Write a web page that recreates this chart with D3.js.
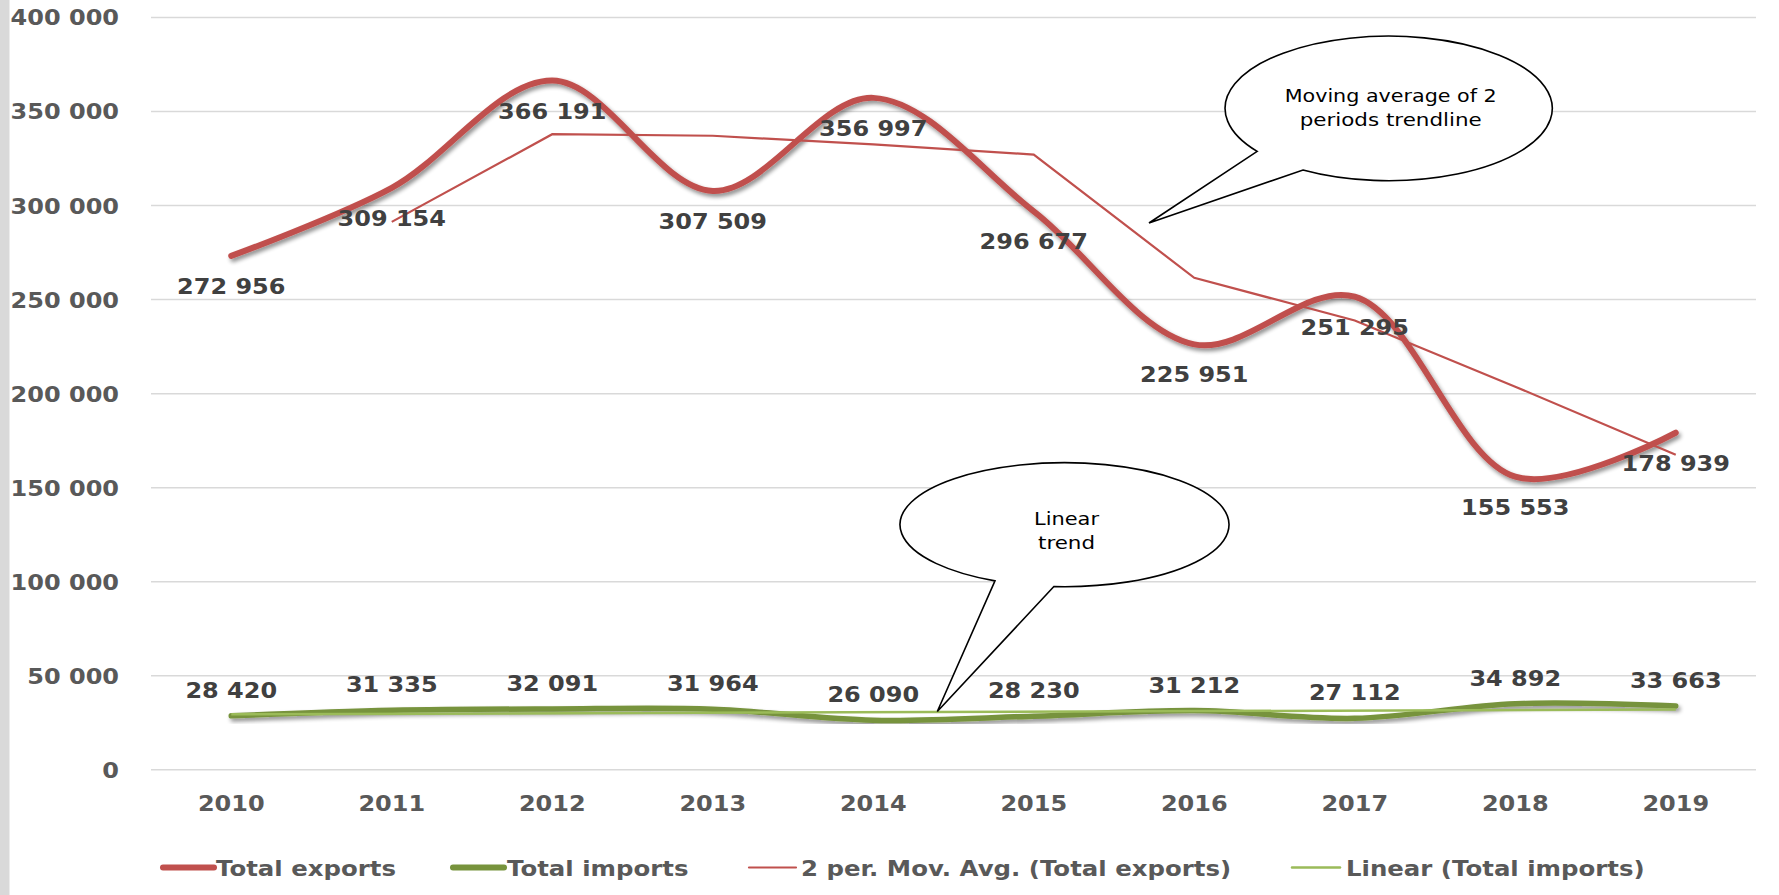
<!DOCTYPE html>
<html>
<head>
<meta charset="utf-8">
<script src="https://cdn.jsdelivr.net/npm/d3@7"></script>
<style>
  html, body { margin: 0; padding: 0; background: #ffffff; }
  svg { display: block; }
  text { font-family: "DejaVu Sans", sans-serif; }
</style>
</head>
<body>
<svg id="chart" width="1779" height="895"></svg>
<script>
// ---------- data ----------
const years = ["2010","2011","2012","2013","2014","2015","2016","2017","2018","2019"];
const totalExports = [272956, 309154, 366191, 307509, 356997, 296677, 225951, 251295, 155553, 178939];
const totalImports = [28420, 31335, 32091, 31964, 26090, 28230, 31212, 27112, 34892, 33663];
// 2-period moving average of exports, starting at 2011
const movAvgYears = ["2011","2012","2013","2014","2015","2016","2017","2018","2019"];
const movAvgExports = [291055, 337673, 336850, 332253, 326837, 261314, 238623, 203424, 167246];
// linear trend of imports (endpoints)
const linearYears = ["2010","2019"];
const linearImports = [29217, 31785];
const yTicks = [0, 50000, 100000, 150000, 200000, 250000, 300000, 350000, 400000];
const legendLabels = ["Total exports", "Total imports", "2 per. Mov. Avg. (Total exports)", "Linear (Total imports)"];
const callout1Lines = ["Moving average of 2", "periods trendline"];
const callout2Lines = ["Linear", "trend"];

// ---------- setup ----------
const W = 1779, H = 895;
const SX = 1.09;  // horizontal stretch of bold texts
const SXL = 1.11; // legend stretch
const plot = { left: 151, right: 1756, top: 17, bottom: 769.3 };
const svg = d3.select("#chart");

const defs = svg.append("defs");
const f = defs.append("filter").attr("id", "shadow")
  .attr("x", "-5%").attr("y", "-20%").attr("width", "110%").attr("height", "140%");
f.append("feGaussianBlur").attr("in", "SourceAlpha").attr("stdDeviation", 2).attr("result", "b");
f.append("feOffset").attr("in", "b").attr("dx", 2).attr("dy", 3).attr("result", "o");
f.append("feComponentTransfer").attr("in", "o").attr("result", "s")
  .append("feFuncA").attr("type", "linear").attr("slope", 0.45);
const fm = f.append("feMerge");
fm.append("feMergeNode").attr("in", "s");
fm.append("feMergeNode").attr("in", "SourceGraphic");

// left gray strip
svg.append("rect").attr("x", 0).attr("y", 0).attr("width", 9.5).attr("height", H).attr("fill", "#d9d9d9");

const x = d3.scaleBand().domain(years).range([plot.left, plot.right]).padding(0);
const xc = d => x(d) + x.bandwidth() / 2;
const y = d3.scaleLinear().domain([0, 400000]).range([plot.bottom, plot.top]);

const fmt = v => d3.format(",")(v).replace(/,/g, " ");

// ---------- gridlines + y axis ----------
const yAxis = d3.axisLeft(y).tickValues(yTicks).tickFormat(fmt)
  .tickSize(-(plot.right - plot.left)).tickPadding(32);
const gy = svg.append("g").attr("transform", `translate(${plot.left},0)`).call(yAxis);
gy.select(".domain").remove();
gy.selectAll(".tick line").attr("stroke", "#d9d9d9").attr("stroke-width", 1.5);
gy.selectAll(".tick text")
  .attr("fill", "#595959").attr("font-size", 22).attr("font-weight", "bold")
  .attr("x", 0).attr("dy", "0.36em")
  .attr("transform", `translate(-32,0) scale(${SX},1)`);

// ---------- x axis ----------
const xAxis = d3.axisBottom(x).tickSize(0).tickPadding(0);
const gx = svg.append("g").attr("transform", `translate(0,${plot.bottom})`).call(xAxis);
gx.select(".domain").remove();
gx.selectAll(".tick text")
  .attr("fill", "#595959").attr("font-size", 22).attr("font-weight", "bold")
  .attr("y", 0).attr("dy", 0)
  .attr("transform", `translate(0,42) scale(${SX},1)`);

// ---------- series ----------
const lineGen = d3.line().x(d => xc(d[0])).y(d => y(d[1])).curve(d3.curveCatmullRom.alpha(0.5));
const straight = d3.line().x(d => xc(d[0])).y(d => y(d[1]));

svg.append("path").datum(years.map((yr, i) => [yr, totalExports[i]]))
  .attr("d", lineGen).attr("fill", "none").attr("stroke", "#C0504D")
  .attr("stroke-width", 6).attr("stroke-linecap", "round").attr("filter", "url(#shadow)");

svg.append("path").datum(years.map((yr, i) => [yr, totalImports[i]]))
  .attr("d", lineGen).attr("fill", "none").attr("stroke", "#77933C")
  .attr("stroke-width", 5.5).attr("stroke-linecap", "round").attr("filter", "url(#shadow)");

svg.append("path").datum(movAvgYears.map((yr, i) => [yr, movAvgExports[i]]))
  .attr("d", straight).attr("fill", "none").attr("stroke", "#C0504D").attr("stroke-width", 2.2);

svg.append("path").datum(linearYears.map((yr, i) => [yr, linearImports[i]]))
  .attr("d", straight).attr("fill", "none").attr("stroke", "#9BBB59").attr("stroke-width", 2.5);

// ---------- data labels ----------
svg.append("g").selectAll("text").data(years.map((yr, i) => [yr, totalExports[i]]))
  .join("text")
  .attr("transform", d => `translate(${xc(d[0])},${y(d[1]) + 38}) scale(${SX},1)`)
  .attr("text-anchor", "middle").attr("fill", "#404040")
  .attr("font-size", 22).attr("font-weight", "bold")
  .text(d => fmt(d[1]));

svg.append("g").selectAll("text").data(years.map((yr, i) => [yr, totalImports[i]]))
  .join("text")
  .attr("transform", d => `translate(${xc(d[0])},${y(d[1]) - 18}) scale(${SX},1)`)
  .attr("text-anchor", "middle").attr("fill", "#404040")
  .attr("font-size", 22).attr("font-weight", "bold")
  .text(d => fmt(d[1]));

// ---------- callouts ----------
function callout(cx, cy, rx, ry, aDeg, bDeg, tip, lines, lineYs, lineWs) {
  const a = aDeg * Math.PI / 180, b = bDeg * Math.PI / 180;
  const A = [cx + rx * Math.cos(a), cy + ry * Math.sin(a)];
  const B = [cx + rx * Math.cos(b), cy + ry * Math.sin(b)];
  const d = `M${A[0]},${A[1]} A${rx},${ry} 0 1 1 ${B[0]},${B[1]} L${tip[0]},${tip[1]} Z`;
  const g = svg.append("g");
  g.append("path").attr("d", d).attr("fill", "#ffffff").attr("stroke", "#000000").attr("stroke-width", 1.6)
    .attr("stroke-linejoin", "miter");
  lines.forEach((t, i) => {
    g.append("text").attr("x", cx + 2).attr("y", lineYs[i])
      .attr("text-anchor", "middle").attr("font-size", 17.5).attr("fill", "#000000")
      .attr("font-family", "'Open Sans', sans-serif")
      .attr("textLength", lineWs[i]).attr("lengthAdjust", "spacingAndGlyphs")
      .text(t);
  });
}
callout(1388.7, 108.4, 163.6, 72.3, 143.5, 121.6, [1149, 223], callout1Lines, [102, 125.5], [212, 182]);
callout(1064.5, 524.7, 164.5, 62, 115, 93.7, [937.3, 711.5], callout2Lines, [525, 548.5], [65, 57]);

// ---------- legend ----------
const legendItems = [
  { x1: 163, x2: 214, tx: 216, color: "#C0504D", w: 6 },
  { x1: 453, x2: 504, tx: 507, color: "#77933C", w: 6 },
  { x1: 749, x2: 796, tx: 801, color: "#C0504D", w: 2.2 },
  { x1: 1292, x2: 1340, tx: 1346, color: "#9BBB59", w: 2.5 }
];
const lg = svg.append("g");
legendItems.forEach((it, i) => {
  lg.append("line").attr("x1", it.x1).attr("x2", it.x2).attr("y1", 867.5).attr("y2", 867.5)
    .attr("stroke", it.color).attr("stroke-width", it.w).attr("stroke-linecap", "round");
  lg.append("text").attr("transform", `translate(${it.tx},876) scale(${SXL},1)`).attr("fill", "#595959")
    .attr("font-size", 22).attr("font-weight", "bold").text(legendLabels[i]);
});
</script>
</body>
</html>
